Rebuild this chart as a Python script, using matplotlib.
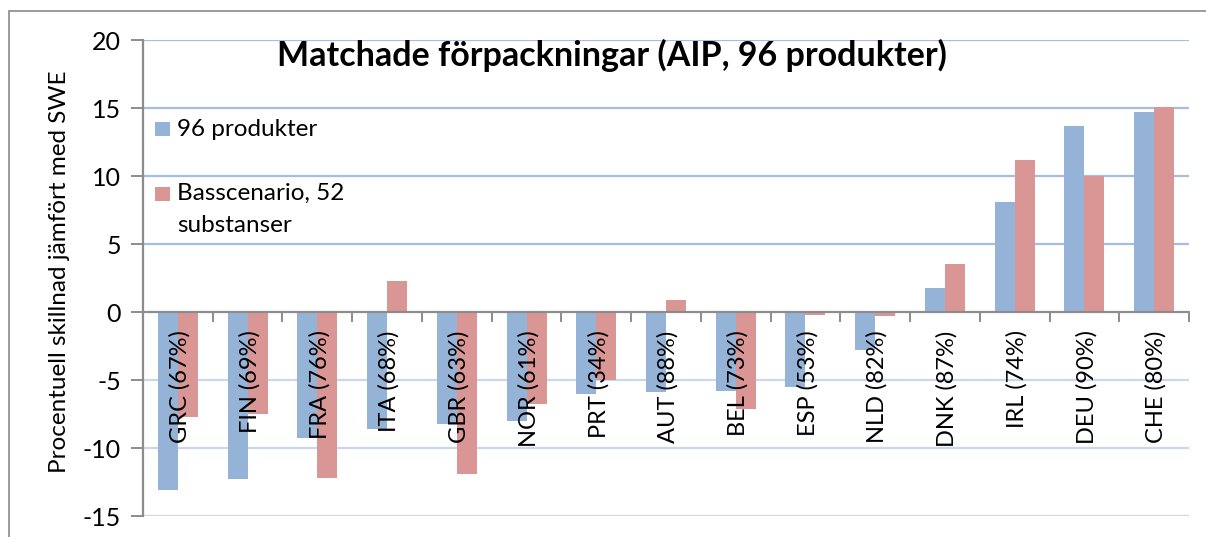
import matplotlib
matplotlib.use("Agg")
import matplotlib.pyplot as plt
from matplotlib.patches import Rectangle
import numpy as np

categories = ["GRC (67%)", "FIN (69%)", "FRA (76%)", "ITA (68%)", "GBR (63%)",
              "NOR (61%)", "PRT (34%)", "AUT (88%)", "BEL (73%)", "ESP (53%)",
              "NLD (82%)", "DNK (87%)", "IRL (74%)", "DEU (90%)", "CHE (80%)"]
produkter96 = [-13.1, -12.3, -9.3, -8.6, -8.2, -8.0, -6.0, -5.9, -5.8, -5.5,
               -2.8, 1.8, 8.1, 13.7, 14.7]
basscenario52 = [-7.7, -7.5, -12.2, 2.3, -11.9, -6.8, -5.0, 0.9, -7.1, -0.2,
                 -0.3, 3.5, 11.2, 10.0, 15.1]
series_names = ["96 produkter", "Basscenario, 52\nsubstanser"]
title = "Matchade förpackningar (AIP, 96 produkter)"
ylabel = "Procentuell skillnad jämfört med SWE"
yticks = [-15, -10, -5, 0, 5, 10, 15, 20]

W, H = 1206, 537
fig = plt.figure(figsize=(W / 100, H / 100), dpi=100)
fig.patch.set_facecolor("white")

def fx(px):
    return px / W

def fy(py):
    return 1 - py / H

# outer chart border
fig.add_artist(Rectangle((fx(9), -0.1), 1.2, fy(11) + 0.1, transform=fig.transFigure,
                         fill=False, edgecolor="#8a8a8a", linewidth=1.2, clip_on=False))

left, right, top, bottom = 143, 1189, 40, 516
ax = fig.add_axes([fx(left), fy(bottom), fx(right - left), (bottom - top) / H])
ax.set_facecolor("none")

blue = "#95B3D7"
red = "#D99694"
x = np.arange(len(categories))
bw = 0.287
ax.bar(x - bw / 2, produkter96, bw, color=blue, edgecolor="none", zorder=3)
ax.bar(x + bw / 2, basscenario52, bw, color=red, edgecolor="none", zorder=3)

ax.set_xlim(-0.5, len(categories) - 0.5)
ax.set_ylim(-15, 20)

for yv in yticks:
    if yv == 0:
        continue
    c = "#A4BDE4" if yv > 0 else "#CAD8EF"
    ax.axhline(yv, color=c, linewidth=1.6, zorder=1)

# zero axis with ticks
ax.axhline(0, color="#8c8c8c", linewidth=1.6, zorder=4)
for k in range(len(categories) + 1):
    ax.plot([k - 0.5, k - 0.5], [0, -0.65], color="#8c8c8c", linewidth=1.4, zorder=4,
            clip_on=False)

for s in ["top", "right", "bottom"]:
    ax.spines[s].set_visible(False)
ax.spines["left"].set_color("#8c8c8c")
ax.spines["left"].set_linewidth(1.6)

ax.set_yticks(yticks)
ax.set_yticklabels([str(v) for v in yticks], fontsize=18, family="Lato")
ax.tick_params(axis="y", length=9, width=1.4, color="#8c8c8c", pad=7)
ax.set_xticks([])

for xi, lab in zip(x, categories):
    ax.text(xi + 0.03, -1.35, lab, rotation=90, ha="center", va="top", fontsize=17,
            family="Lato", zorder=5)

fig.text(fx(60), fy(272), ylabel, rotation=90, ha="center", va="center", fontsize=17.5,
         family="Lato")

fig.text(fx(612), fy(55), title, ha="center", va="center", fontsize=24.5,
         fontweight="bold", family="Lato")

# legend drawn inside plot area
leg_items = [(blue, series_names[0], 122, 119), (red, series_names[1], 187, 183)]
for col, name, ytop, ytext in leg_items:
    fig.add_artist(Rectangle((fx(155), fy(ytop + 14)), fx(15), 14 / H,
                             transform=fig.transFigure, facecolor=col, edgecolor="none"))
    fig.text(fx(177), fy(ytext), name, ha="left", va="top", fontsize=17.5,
             family="Lato", linespacing=1.65)

fig.savefig("out.png", dpi=100, facecolor="white")
